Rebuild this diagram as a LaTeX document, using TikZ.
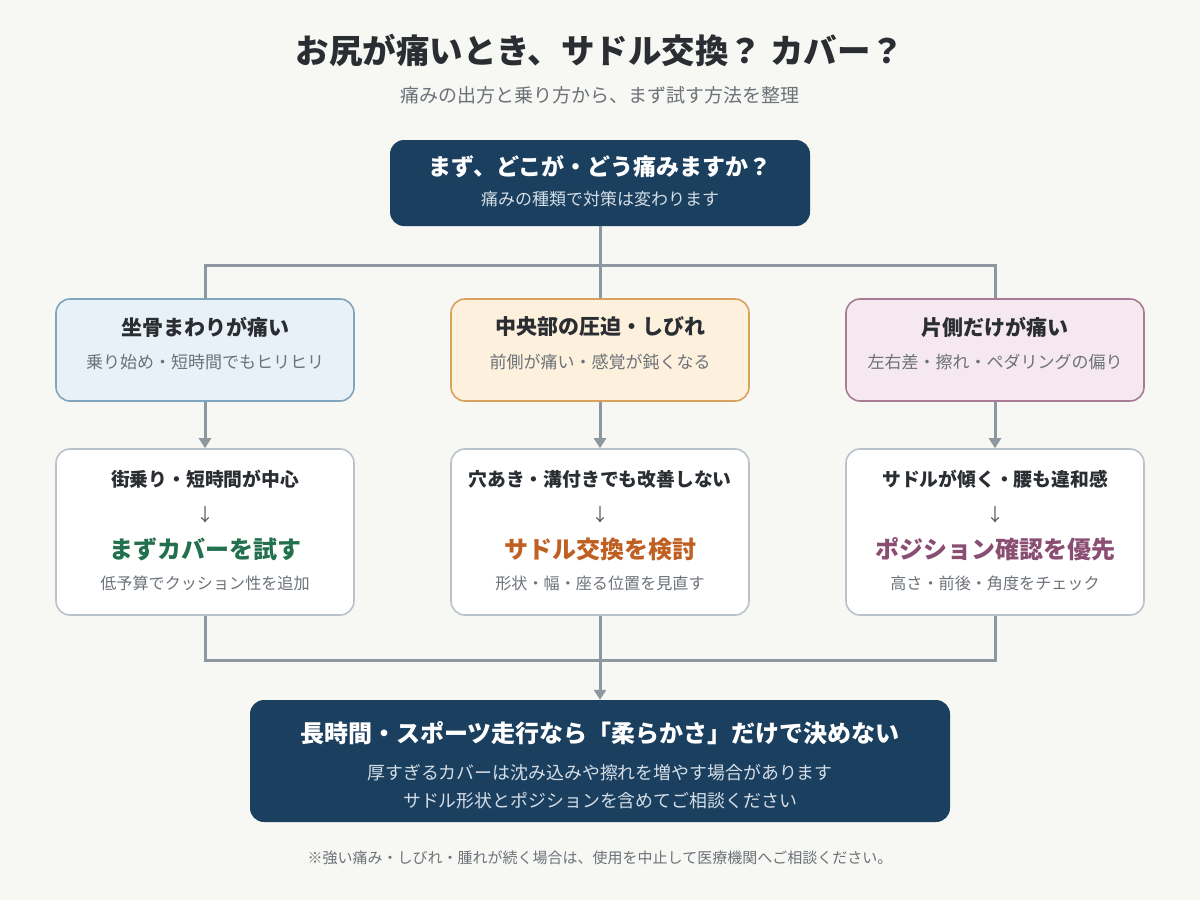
\documentclass[tikz,border=0pt]{standalone}
\usepackage{fontspec}
\setmainfont{Noto Sans CJK JP}
\usetikzlibrary{arrows.meta}
\definecolor{bg}{HTML}{F7F7F4}
\definecolor{navy}{HTML}{1B3F5E}
\definecolor{wire}{HTML}{8D979F}
\definecolor{ink}{HTML}{2A2E33}
\definecolor{mute}{HTML}{6C7278}
\definecolor{pale}{HTML}{D5DEE7}
\definecolor{bluefill}{HTML}{E9F1F8}\definecolor{blueline}{HTML}{7FA5BF}
\definecolor{sandfill}{HTML}{FDF0DD}\definecolor{sandline}{HTML}{D9A15E}
\definecolor{rosefill}{HTML}{F5E9EF}\definecolor{roseline}{HTML}{A97C96}
\definecolor{cardline}{HTML}{BAC2C9}
\definecolor{leaf}{HTML}{23704F}\definecolor{rust}{HTML}{BF5F22}\definecolor{plum}{HTML}{8A4E72}
\newcommand{\fs}[1]{\fontsize{#1}{#1}\selectfont}
\begin{document}
\begin{tikzpicture}[x=1pt,y=-1pt,>={Triangle[width=12pt,length=10pt]},
  lead/.style={fill=navy,rounded corners=14pt,inner sep=0pt},
  kind/.style={draw,line width=1.6pt,rounded corners=14pt,inner sep=0pt,minimum width=298pt,minimum height=102pt},
  tip/.style={draw=cardline,fill=white,line width=1.6pt,rounded corners=14pt,inner sep=0pt,minimum width=298pt,minimum height=166pt},
  wire/.style={draw=wire,line width=3pt},
  head/.style={font=\fs{21}\bfseries,text=ink},
  note/.style={font=\fs{17},text=mute},
  hint/.style={font=\fs{18.8}\bfseries,text=ink},
  down/.style={font=\fs{18},text=ink!80},
  small/.style={font=\fs{16.1},text=mute}]
\fill[bg](0,0) rectangle (1200,900);

\node[font=\fs{33.5}\bfseries,text=ink] (title) at (600,50){お尻が痛いとき、サドル交換？ カバー？};
\node[font=\fs{19},text=mute] (sub) at (600,95){痛みの出方と乗り方から、まず試す方法を整理};

\node[lead,minimum width=420pt,minimum height=86pt] (top) at (600,183){};
\node[font=\fs{23}\bfseries,text=white] at (600,167){まず、どこが・どう痛みますか？};
\node[font=\fs{17},text=pale] at (600,199){痛みの種類で対策は変わります};

\begin{scope}
\node[kind,draw=blueline,fill=bluefill] (k1) at (205,350){};
\node[head] at (205,327){坐骨まわりが痛い};
\node[note] at (205,362){乗り始め・短時間でもヒリヒリ};

\node[kind,draw=sandline,fill=sandfill] (k2) at (600,350){};
\node[head] at (600,327){中央部の圧迫・しびれ};
\node[note] at (600,362){前側が痛い・感覚が鈍くなる};

\node[kind,draw=roseline,fill=rosefill] (k3) at (995,350){};
\node[head] at (995,327){片側だけが痛い};
\node[note] at (995,362){左右差・擦れ・ペダリングの偏り};
\end{scope}

\begin{scope}
\node[tip] (t1) at (205,532){};
\node[hint] at (205,479){街乗り・短時間が中心};
\node[down] at (205,515){↓};
\node[font=\fs{24}\bfseries,text=leaf] at (205,549){まずカバーを試す};
\node[small] at (205,583){低予算でクッション性を追加};

\node[tip] (t2) at (600,532){};
\node[hint] at (600,479){穴あき・溝付きでも改善しない};
\node[down] at (600,515){↓};
\node[font=\fs{24}\bfseries,text=rust] at (600,549){サドル交換を検討};
\node[small] at (600,583){形状・幅・座る位置を見直す};

\node[tip] (t3) at (995,532){};
\node[hint] at (995,479){サドルが傾く・腰も違和感};
\node[down] at (995,515){↓};
\node[font=\fs{24}\bfseries,text=plum] at (995,549){ポジション確認を優先};
\node[small] at (995,583){高さ・前後・角度をチェック};
\end{scope}

\node[lead,minimum width=700pt,minimum height=122pt] (end) at (600,761){};
\node[font=\fs{24}\bfseries,text=white] at (600,733){長時間・スポーツ走行なら「柔らかさ」だけで決めない};
\node[font=\fs{17.9},text=pale] at (600,773){厚すぎるカバーは沈み込みや擦れを増やす場合があります};
\node[font=\fs{17.9},text=pale] at (600,801){サドル形状とポジションを含めてご相談ください};

\node[font=\fs{15},text=mute] (foot) at (600,858){※強い痛み・しびれ・腫れが続く場合は、使用を中止して医療機関へご相談ください。};

\coordinate (split) at (600,265);
\coordinate (merge) at (600,660);
\draw[wire](top.south)--(k2.north);
\draw[wire](k1.north)|-(split)-|(k3.north);
\draw[wire,->](k1.south)--(t1.north);
\draw[wire,->](k2.south)--(t2.north);
\draw[wire,->](k3.south)--(t3.north);
\draw[wire](t1.south)|-(merge)-|(t3.south);
\draw[wire,->](t2.south)--(end.north);
\end{tikzpicture}
\end{document}
